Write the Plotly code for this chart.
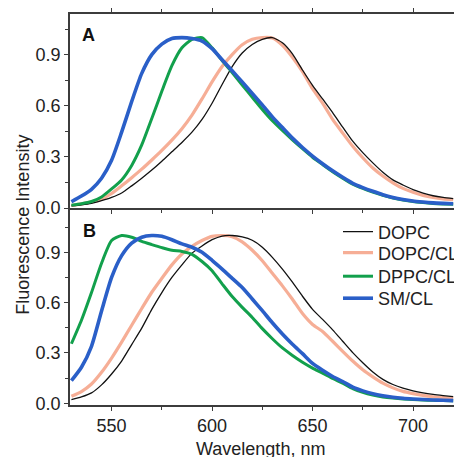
import plotly.graph_objects as go

wavelength = [530, 535, 540, 545, 550, 555, 560, 565, 570, 575, 580, 585, 590, 595, 600,
              605, 610, 615, 620, 625, 630, 635, 640, 645, 650, 655, 660, 665, 670, 675,
              680, 685, 690, 695, 700, 705, 710, 715, 720]

# Panel A
a_dopc = [0.012, 0.018, 0.027, 0.043, 0.062, 0.088, 0.130, 0.175, 0.223, 0.275, 0.330, 0.385, 0.445, 0.520, 0.615,
          0.725, 0.830, 0.910, 0.960, 0.990, 1.000, 0.970, 0.905, 0.810, 0.720, 0.640, 0.560, 0.475, 0.392, 0.325,
          0.265, 0.210, 0.165, 0.135, 0.108, 0.088, 0.072, 0.062, 0.055]
a_dopc_cl = [0.015, 0.024, 0.036, 0.052, 0.085, 0.130, 0.178, 0.228, 0.282, 0.338, 0.398, 0.465, 0.545, 0.640, 0.740,
             0.830, 0.900, 0.958, 0.990, 1.000, 0.998, 0.955, 0.885, 0.800, 0.700, 0.615, 0.520, 0.440, 0.362, 0.295,
             0.235, 0.188, 0.148, 0.115, 0.092, 0.074, 0.062, 0.054, 0.049]
a_dppc_cl = [0.017, 0.025, 0.038, 0.065, 0.112, 0.165, 0.250, 0.370, 0.525, 0.685, 0.835, 0.940, 0.990, 1.000, 0.940,
             0.865, 0.795, 0.722, 0.650, 0.578, 0.512, 0.455, 0.400, 0.348, 0.298, 0.255, 0.213, 0.175, 0.140, 0.115,
             0.093, 0.074, 0.059, 0.047, 0.038, 0.032, 0.027, 0.024, 0.022]
a_sm_cl = [0.037, 0.070, 0.110, 0.175, 0.280, 0.445, 0.625, 0.790, 0.900, 0.962, 0.995, 1.000, 0.995, 0.980, 0.935,
           0.870, 0.805, 0.740, 0.672, 0.605, 0.535, 0.472, 0.410, 0.355, 0.305, 0.260, 0.218, 0.180, 0.145, 0.120,
           0.098, 0.078, 0.062, 0.050, 0.041, 0.035, 0.030, 0.027, 0.025]

# Panel B
b_dopc = [0.022, 0.038, 0.062, 0.110, 0.175, 0.252, 0.350, 0.448, 0.560, 0.660, 0.750, 0.825, 0.895, 0.938, 0.975,
          0.997, 1.000, 0.992, 0.972, 0.930, 0.870, 0.800, 0.722, 0.638, 0.560, 0.500, 0.438, 0.370, 0.302, 0.242,
          0.187, 0.143, 0.112, 0.090, 0.074, 0.062, 0.053, 0.046, 0.040]
b_dopc_cl = [0.042, 0.070, 0.115, 0.185, 0.270, 0.365, 0.465, 0.565, 0.662, 0.745, 0.825, 0.890, 0.935, 0.970, 0.995,
             1.000, 0.993, 0.962, 0.912, 0.850, 0.775, 0.700, 0.620, 0.535, 0.470, 0.428, 0.370, 0.310, 0.252, 0.200,
             0.158, 0.120, 0.092, 0.071, 0.058, 0.047, 0.039, 0.034, 0.030]
b_dppc_cl = [0.355, 0.495, 0.660, 0.835, 0.970, 1.000, 0.990, 0.965, 0.946, 0.928, 0.912, 0.905, 0.888, 0.845, 0.790,
             0.712, 0.636, 0.572, 0.512, 0.445, 0.385, 0.330, 0.285, 0.245, 0.210, 0.180, 0.148, 0.120, 0.088, 0.065,
             0.049, 0.038, 0.031, 0.026, 0.023, 0.020, 0.018, 0.017, 0.016]
b_sm_cl = [0.135, 0.215, 0.340, 0.550, 0.750, 0.880, 0.955, 0.990, 1.000, 0.995, 0.975, 0.950, 0.930, 0.900, 0.852,
           0.800, 0.745, 0.690, 0.622, 0.552, 0.480, 0.413, 0.352, 0.296, 0.238, 0.197, 0.160, 0.130, 0.096, 0.074,
           0.057, 0.045, 0.036, 0.030, 0.026, 0.023, 0.020, 0.018, 0.016]

series_names = ["DOPC", "DOPC/CL", "DPPC/CL", "SM/CL"]
x_ticks = [550, 600, 650, 700]
y_ticks = [0.0, 0.3, 0.6, 0.9]

colors = {"DOPC": "#111111", "DOPC/CL": "#F6AE96", "DPPC/CL": "#12A04C", "SM/CL": "#2A5FC8"}
widths = {"DOPC": 1.3, "DOPC/CL": 3.2, "DPPC/CL": 3.0, "SM/CL": 3.6}
legend_ids = {"DOPC": "legend", "DOPC/CL": "legend2", "DPPC/CL": "legend3", "SM/CL": "legend4"}
legend_rows = {"legend": 232, "legend2": 253, "legend3": 276.5, "legend4": 298.5}
draw_order = ["DOPC/CL", "DOPC", "DPPC/CL", "SM/CL"]

panel_a = {"DOPC": a_dopc, "DOPC/CL": a_dopc_cl, "DPPC/CL": a_dppc_cl, "SM/CL": a_sm_cl}
panel_b = {"DOPC": b_dopc, "DOPC/CL": b_dopc_cl, "DPPC/CL": b_dppc_cl, "SM/CL": b_sm_cl}

fig = go.Figure()
for name in draw_order:
    fig.add_trace(go.Scatter(x=wavelength, y=panel_a[name], mode="lines", name=name,
                             line=dict(color=colors[name], width=widths[name], shape="spline", smoothing=0.6),
                             xaxis="x", yaxis="y", showlegend=False))
for name in draw_order:
    fig.add_trace(go.Scatter(x=wavelength, y=panel_b[name], mode="lines", name=name,
                             line=dict(color=colors[name], width=widths[name], shape="spline", smoothing=0.6),
                             xaxis="x2", yaxis="y2", showlegend=True, legend=legend_ids[name]))

axis_color = "#3c3c3c"
font_family = "Liberation Sans, Arial, sans-serif"
tick_font = dict(family=font_family, size=18, color="#222222")

common_x = dict(range=[529.3, 720.4], tickvals=x_ticks, ticks="outside", ticklen=4, tickwidth=1.3,
                tickcolor=axis_color, showline=True, linecolor=axis_color, linewidth=1.5,
                showgrid=False, zeroline=False, tickfont=tick_font,
                minor=dict(dtick=25, tick0=525, ticks="outside", ticklen=3, tickcolor=axis_color, showgrid=False))
common_y = dict(tickvals=y_ticks, tickformat=".1f", ticks="outside", ticklen=4, tickwidth=1.3,
                tickcolor=axis_color, showline=True, linecolor=axis_color, linewidth=1.5,
                showgrid=False, zeroline=False, tickfont=tick_font, mirror=False,
                minor=dict(dtick=0.15, tick0=0.15, ticks="outside", ticklen=3, tickcolor=axis_color, showgrid=False))

plot_top, plot_bottom, plot_left, plot_right = 14, 405, 70, 454


def py(px):
    return (plot_bottom - px) / (plot_bottom - plot_top)


def px_x(px):
    return (px - plot_left) / (plot_right - plot_left)


legend_layout = {}
for lid, row in legend_rows.items():
    legend_layout[lid] = dict(x=px_x(338), y=py(row), xanchor="left", yanchor="middle",
                              bgcolor="rgba(0,0,0,0)", borderwidth=0,
                              font=dict(family=font_family, size=18, color="#222222"), itemwidth=30)

fig.update_layout(
    width=454, height=457, autosize=False,
    margin=dict(l=70, r=0, t=14, b=52, autoexpand=False),
    plot_bgcolor="white", paper_bgcolor="white",
    font=dict(family=font_family, size=18, color="#222222"),
    xaxis=dict(**common_x, domain=[0, 1], anchor="y", showticklabels=False, mirror="ticks"),
    yaxis=dict(**common_y, domain=[0.5038, 1], range=[0, 1.1385], anchor="x"),
    xaxis2=dict(**common_x, domain=[0, 1], anchor="y2", showticklabels=True, mirror=False),
    yaxis2=dict(**common_y, domain=[0, 0.4987], range=[-0.01, 1.152], anchor="x2"),
    showlegend=True,
    annotations=[
        dict(text="Fluorescence Intensity", textangle=-90, x=px_x(22.7), y=py(225), xref="paper", yref="paper",
             showarrow=False, xanchor="center", yanchor="middle", font=dict(size=18)),
        dict(text="Wavelength, nm", x=px_x(260), y=py(449), xref="paper", yref="paper",
             showarrow=False, xanchor="center", yanchor="middle", font=dict(size=18)),
        dict(text="<b>A</b>", x=px_x(88.5), y=py(35), xref="paper", yref="paper", showarrow=False,
             xanchor="center", yanchor="middle", font=dict(size=18, color="#111111")),
        dict(text="<b>B</b>", x=px_x(89), y=py(231), xref="paper", yref="paper", showarrow=False,
             xanchor="center", yanchor="middle", font=dict(size=18, color="#111111")),
    ],
    **legend_layout,
)

fig.write_html("out.html",
               config={"displayModeBar": False, "responsive": False},
               post_script="document.body.style.margin='0';document.body.style.overflow='hidden';")
